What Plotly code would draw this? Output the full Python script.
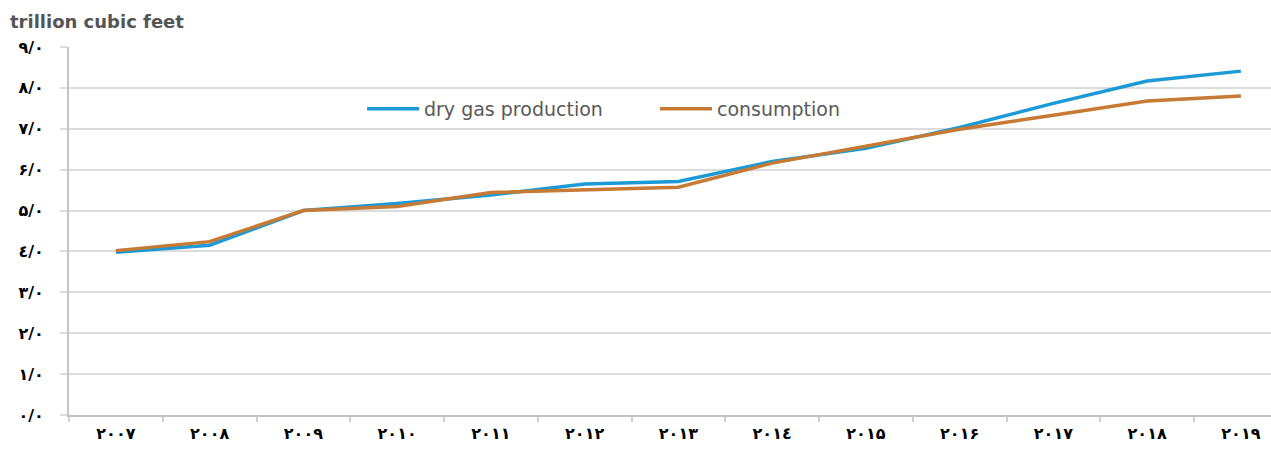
import plotly.graph_objects as go

years = ["۲۰۰۷", "۲۰۰۸", "۲۰۰۹", "۲۰۱۰", "۲۰۱۱", "۲۰۱۲", "۲۰۱۳",
         "۲۰۱٤", "۲۰۱۵", "۲۰۱۶", "۲۰۱۷", "۲۰۱۸", "۲۰۱۹"]
production = [3.98, 4.15, 5.00, 5.17, 5.38, 5.65, 5.71, 6.20, 6.52, 7.03, 7.62, 8.17, 8.41]
consumption = [4.02, 4.24, 5.00, 5.10, 5.44, 5.51, 5.57, 6.16, 6.57, 6.99, 7.33, 7.68, 7.80]
y_tickvals = [0, 1, 2, 3, 4, 5, 6, 7, 8, 9]
y_ticktext = ["۰/۰", "۱/۰", "۲/۰", "۳/۰", "٤/۰", "۵/۰", "۶/۰", "۷/۰", "۸/۰", "۹/۰"]

W, H = 1271, 454
ML, MR, MT, MB = 69, 0, 47, 39
band = 93.75
plot_w = W - ML - MR
x_end = plot_w / band - 0.5

fig = go.Figure()
fig.add_trace(go.Scatter(x=years, y=production, mode="lines",
                         name="dry gas production",
                         line=dict(color="#1c9ad6", width=3.5)))
fig.add_trace(go.Scatter(x=years, y=consumption, mode="lines",
                         name="consumption",
                         line=dict(color="#c77a33", width=3.5)))

fig.update_layout(
    width=W, height=H,
    margin=dict(l=ML, r=MR, t=MT, b=MB, pad=0),
    paper_bgcolor="white", plot_bgcolor="white",
    font=dict(family="DejaVu Sans", color="#000000"),
    title=dict(text="trillion cubic feet", xref="container", yref="container",
               x=10 / W, xanchor="left", y=1 - 22 / H, yanchor="middle",
               font=dict(family="DejaVu Sans", size=18, color="#555555", weight=700)),
    showlegend=True,
    legend=dict(orientation="h", x=(362 - ML) / plot_w, xanchor="left",
                y=1 - (109 - MT) / (H - MT - MB), yanchor="middle",
                font=dict(family="DejaVu Sans", size=19, color="#595959"),
                bgcolor="rgba(0,0,0,0)", entrywidth=226, entrywidthmode="pixels",
                itemwidth=52, tracegroupgap=0),
    xaxis=dict(
        type="category", categoryorder="array", categoryarray=years,
        range=[-0.5, x_end],
        showgrid=False, zeroline=False,
        showline=True, linecolor="#c4c4c4", linewidth=2,
        ticks="outside", ticklen=5, tickcolor="#d0d0d0", tickwidth=2,
        tickson="boundaries", ticklabelstandoff=3,
        tickfont=dict(family="DejaVu Sans", size=16, color="#000000", weight=700),
    ),
    yaxis=dict(
        range=[0, 9], tickmode="array", tickvals=y_tickvals, ticktext=y_ticktext,
        showgrid=True, gridcolor="#dcdcdc", gridwidth=2,
        zeroline=False, showline=True, linecolor="#c4c4c4", linewidth=2,
        ticks="outside", ticklen=7, tickcolor="#dcdcdc", tickwidth=2,
        ticklabelstandoff=13,
        tickfont=dict(family="DejaVu Sans", size=16, color="#000000", weight=700),
    ),
)

fig.write_html("out.html", config={"displayModeBar": False})
with open("out.html", encoding="utf-8") as f:
    html = f.read()
html = html.replace("<head>", "<head><style>html,body{margin:0;padding:0;overflow:hidden;}</style>", 1)
with open("out.html", "w", encoding="utf-8") as f:
    f.write(html)
